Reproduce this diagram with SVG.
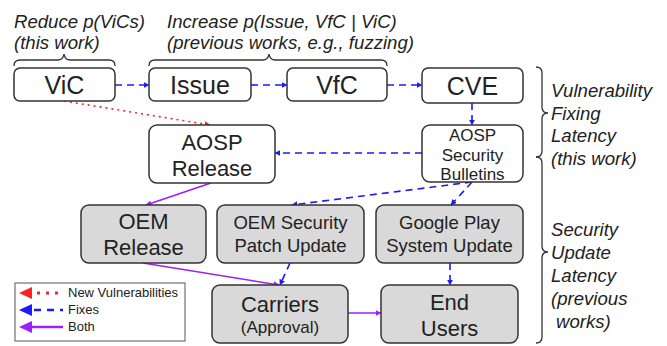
<svg xmlns="http://www.w3.org/2000/svg" width="667" height="346" viewBox="0 0 667 346">
<defs>
<style>
text{font-family:"Liberation Sans",Arial,sans-serif;fill:#222}
.it{font-style:italic;font-size:18.6px}
.box{stroke:#333;stroke-width:1.5;fill:#fff}
.g{fill:#d9d9d9}
.big{font-size:25px}
.mid{font-size:22px}
.sm{font-size:17px}
.s18{font-size:18.5px}
.brace{fill:none;stroke:#333;stroke-width:1.3}
.blue{stroke:#1a1aff;stroke-width:1.6;stroke-dasharray:7 5;fill:none}
.red{stroke:#ff2020;stroke-width:1.6;stroke-dasharray:2 4;fill:none}
.pur{stroke:#9b1fff;stroke-width:1.6;fill:none}
.leg{font-size:13px}
</style>
<marker id="ab" viewBox="0 0 10 10" refX="9" refY="5" markerWidth="6" markerHeight="6" orient="auto" markerUnits="userSpaceOnUse"><path d="M0,0 L10,5 L0,10 z" fill="#1a1aff"/></marker>
<marker id="ar" viewBox="0 0 10 10" refX="9" refY="5" markerWidth="6" markerHeight="6" orient="auto" markerUnits="userSpaceOnUse"><path d="M0,0 L10,5 L0,10 z" fill="#ff2020"/></marker>
<marker id="ap" viewBox="0 0 10 10" refX="9" refY="5" markerWidth="6" markerHeight="6" orient="auto" markerUnits="userSpaceOnUse"><path d="M0,0 L10,5 L0,10 z" fill="#9b1fff"/></marker>
</defs>
<rect width="667" height="346" fill="#fff"/>

<g id="annotations">
<text class="it" x="14" y="28">Reduce p(ViCs)</text>
<text class="it" x="14" y="49">(this work)</text>
<text class="it" x="167" y="28">Increase p(Issue, VfC | ViC)</text>
<text class="it" x="167" y="49">(previous works, e.g., fuzzing)</text>
<path class="brace" d="M14,66 Q14,60 20,60 L58,60 Q63,60 64,54 Q65,60 70,60 L109,60 Q115,60 115,66"/>
<path class="brace" d="M149,66 Q149,60 155,60 L263,60 Q268,60 269,54 Q270,60 275,60 L381,60 Q387,60 387,66"/>
<path class="brace" d="M536,67 Q542,67 542,73 L542,107 Q542,113 548,113 Q542,113 542,119 L542,151 Q542,157 536,157"/>
<path class="brace" d="M536,157 Q542,157 542,163 L542,246 Q542,252 548,252 Q542,252 542,258 L542,337 Q542,343 536,343"/>
<text class="it" x="551" y="97">Vulnerability</text>
<text class="it" x="551" y="120">Fixing</text>
<text class="it" x="551" y="142">Latency</text>
<text class="it" x="551" y="165">(this work)</text>
<text class="it" x="551" y="236">Security</text>
<text class="it" x="551" y="259">Update</text>
<text class="it" x="551" y="282">Latency</text>
<text class="it" x="551" y="305">(previous</text>
<text class="it" x="556" y="328">works)</text>
</g>

<g id="connectors">
<line class="blue" x1="115" y1="85" x2="149" y2="85" marker-end="url(#ab)"/>
<line class="blue" x1="251" y1="85" x2="287" y2="85" marker-end="url(#ab)"/>
<line class="blue" x1="387" y1="85" x2="422" y2="85" marker-end="url(#ab)"/>
<line class="blue" x1="472" y1="103" x2="472" y2="125" marker-end="url(#ab)"/>
<line class="blue" x1="422" y1="153" x2="275" y2="153" marker-end="url(#ab)"/>
<line class="red" x1="64" y1="101" x2="210" y2="125" marker-end="url(#ar)"/>
<line class="pur" x1="211" y1="183" x2="146" y2="205" marker-end="url(#ap)"/>
<line class="blue" x1="472" y1="182" x2="292" y2="205" marker-end="url(#ab)"/>
<line class="blue" x1="472" y1="182" x2="451" y2="205" marker-end="url(#ab)"/>
<line class="pur" x1="143" y1="263" x2="279" y2="285" marker-end="url(#ap)"/>
<line class="blue" x1="290" y1="263" x2="280" y2="285" marker-end="url(#ab)"/>
<line class="blue" x1="450" y1="263" x2="450" y2="285" marker-end="url(#ab)"/>
<line class="pur" x1="348" y1="313" x2="381" y2="313" marker-end="url(#ap)"/>
</g>

<g id="vic"><rect class="box" x="14" y="68" width="101" height="33" rx="6"/><text class="big" x="64.5" y="94" text-anchor="middle">ViC</text></g>
<g id="issue"><rect class="box" x="149" y="68" width="102" height="33" rx="6"/><text class="big" x="200" y="94" text-anchor="middle">Issue</text></g>
<g id="vfc"><rect class="box" x="287" y="68" width="100" height="33" rx="6"/><text class="big" x="337" y="94" text-anchor="middle">VfC</text></g>
<g id="cve"><rect class="box" x="422" y="68" width="101" height="35" rx="6"/><text class="big" x="472.5" y="95" text-anchor="middle">CVE</text></g>
<g id="aosp-release"><rect class="box" x="149" y="125" width="126" height="58" rx="8"/><text class="mid" x="212" y="150" text-anchor="middle">AOSP</text><text class="mid" x="212" y="176" text-anchor="middle">Release</text></g>
<g id="aosp-bulletins"><rect class="box" x="422" y="125" width="101" height="57" rx="8"/><text class="sm" x="472.5" y="141" text-anchor="middle">AOSP</text><text class="sm" x="472.5" y="161" text-anchor="middle">Security</text><text class="sm" x="472.5" y="180" text-anchor="middle">Bulletins</text></g>
<g id="oem-release"><rect class="box g" x="81" y="205" width="125" height="58" rx="8"/><text class="mid" x="143.5" y="229" text-anchor="middle">OEM</text><text class="mid" x="143.5" y="255" text-anchor="middle">Release</text></g>
<g id="oem-patch"><rect class="box g" x="217" y="205" width="147" height="58" rx="8"/><text class="s18" x="290.5" y="229" text-anchor="middle">OEM Security</text><text class="s18" x="290.5" y="252" text-anchor="middle">Patch Update</text></g>
<g id="google-play"><rect class="box g" x="376" y="205" width="147" height="58" rx="8"/><text class="s18" x="449.5" y="229" text-anchor="middle">Google Play</text><text class="s18" x="449.5" y="252" text-anchor="middle">System Update</text></g>
<g id="carriers"><rect class="box g" x="212" y="285" width="136" height="58" rx="8"/><text class="mid" x="280" y="312" text-anchor="middle">Carriers</text><text class="sm" x="280" y="333" text-anchor="middle">(Approval)</text></g>
<g id="end-users"><rect class="box g" x="381" y="285" width="137" height="58" rx="8"/><text class="mid" x="449.5" y="310" text-anchor="middle">End</text><text class="mid" x="449.5" y="336" text-anchor="middle">Users</text></g>

<g id="legend">
<rect x="15" y="283" width="170" height="58" fill="#fff" stroke="#555" stroke-width="1"/>
<path d="M19,293 L32,287 L32,299 z" fill="#ff2020"/>
<line x1="37" y1="293" x2="64" y2="293" stroke="#ff2020" stroke-width="3" stroke-dasharray="3 6"/>
<path d="M19,310 L32,304 L32,316 z" fill="#1a1aff"/>
<line x1="32" y1="310" x2="63" y2="310" stroke="#1a1aff" stroke-width="2.5" stroke-dasharray="7 6" stroke-dashoffset="-2"/>
<path d="M19,327 L32,321 L32,333 z" fill="#9b1fff"/>
<line x1="30" y1="327" x2="63" y2="327" stroke="#9b1fff" stroke-width="2.5"/>
<text class="leg" x="68" y="297">New Vulnerabilities</text>
<text class="leg" x="68" y="314">Fixes</text>
<text class="leg" x="68" y="331">Both</text>
</g>
</svg>
